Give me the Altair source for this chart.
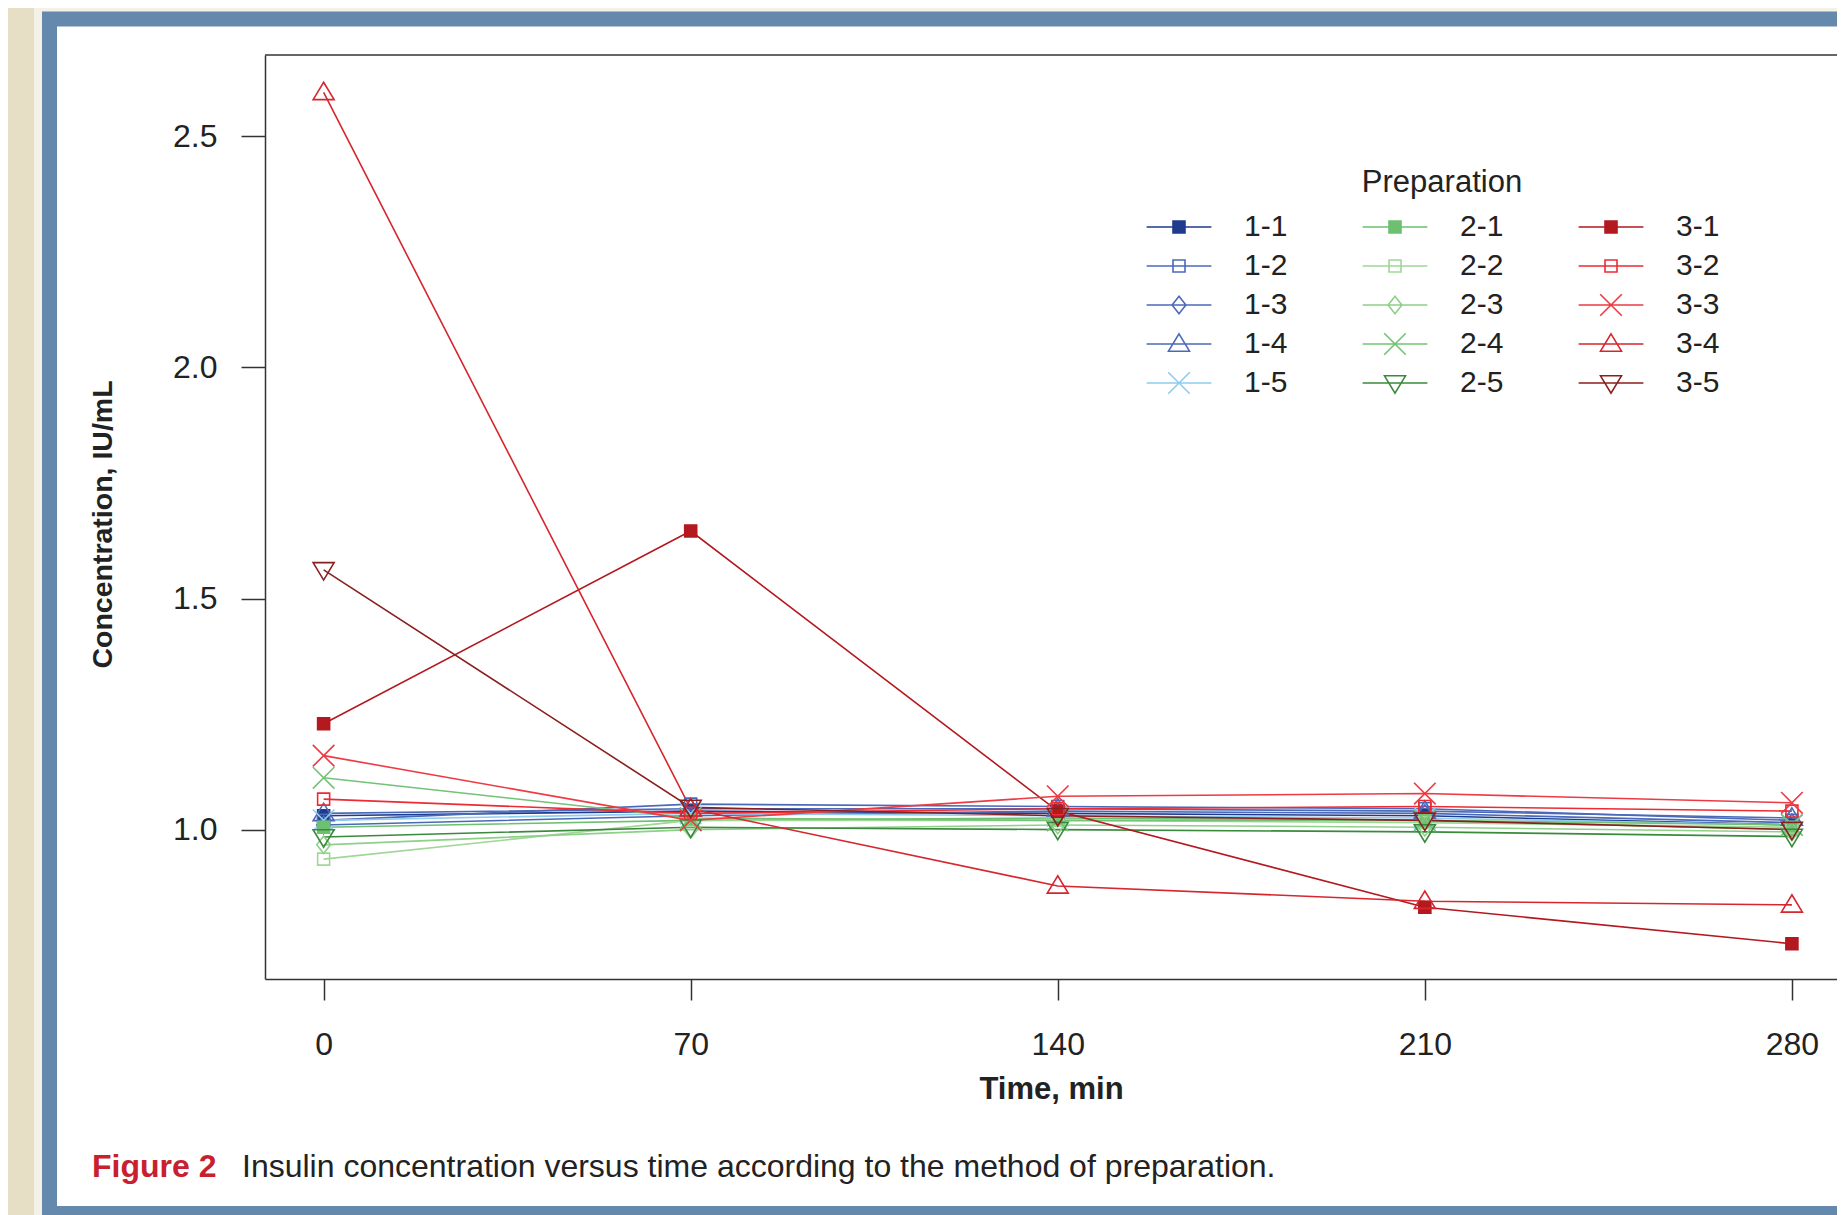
import altair as alt
import pandas as pd

# ---------------- data ----------------
times = [0, 70, 140, 210, 280]
series = ["1-1", "1-2", "1-3", "1-4", "1-5",
          "2-1", "2-2", "2-3", "2-4", "2-5",
          "3-1", "3-2", "3-3", "3-4", "3-5"]

v_1_1 = [1.030, 1.040, 1.035, 1.030, 1.010]
v_1_2 = [1.020, 1.055, 1.050, 1.045, 1.020]
v_1_3 = [1.010, 1.030, 1.040, 1.035, 1.015]
v_1_4 = [1.035, 1.045, 1.045, 1.040, 1.025]
v_1_5 = [1.020, 1.035, 1.030, 1.025, 1.010]
v_2_1 = [1.005, 1.020, 1.025, 1.020, 1.000]
v_2_2 = [0.936, 1.020, 1.020, 1.015, 1.005]
v_2_3 = [0.967, 1.000, 1.010, 1.005, 0.995]
v_2_4 = [1.112, 1.025, 1.020, 1.020, 1.010]
v_2_5 = [0.984, 1.005, 1.000, 0.995, 0.985]
v_3_1 = [1.229, 1.646, 1.040, 0.832, 0.753]
v_3_2 = [1.066, 1.035, 1.045, 1.050, 1.040]
v_3_3 = [1.160, 1.020, 1.072, 1.078, 1.058]
v_3_4 = [2.595, 1.045, 0.878, 0.845, 0.837]
v_3_5 = [1.562, 1.048, 1.030, 1.020, 1.000]
values = [v_1_1, v_1_2, v_1_3, v_1_4, v_1_5,
          v_2_1, v_2_2, v_2_3, v_2_4, v_2_5,
          v_3_1, v_3_2, v_3_3, v_3_4, v_3_5]

colors = ["#1f3b8c", "#4b69b9", "#4b69b9", "#4b69b9", "#8fcdf0",
          "#6cc070", "#9fd796", "#8ed08a", "#74c277", "#3a8a3d",
          "#b3191f", "#ee2a33", "#ee3a43", "#d6262e", "#8a1f1f"]

SQ = "M-1,-1L1,-1L1,1L-1,1Z"
DI = "M0,-1.45L1.15,0L0,1.45L-1.15,0Z"
TU = "M0,-1.7L1.75,1.2L-1.75,1.2Z"
TD = "M-1.75,-1.2L1.75,-1.2L0,1.7Z"
XX = "M-1.8,-1.8L1.8,1.8M-1.8,1.8L1.8,-1.8"
LN = "M-5.4,0L5.4,0"
shapes = [SQ, SQ, DI, TU, XX,
          SQ, SQ, DI, XX, TD,
          SQ, SQ, XX, TU, TD]
filled = [True, False, False, False, False,
          True, False, False, False, False,
          True, False, False, False, False]

y_ticks = [1.0, 1.5, 2.0, 2.5]
x_title = "Time, min"
y_title = "Concentration, IU/mL"
legend_title = "Preparation"
cap_fig = "Figure 2"
cap_text = "Insulin concentration versus time according to the method of preparation."

# ---------------- tables ----------------
rows = []
for s, vals in zip(series, values):
    for t, v in zip(times, vals):
        rows.append({"prep": s, "time": t, "conc": v})
df = pd.DataFrame(rows)

fills = [c if f else "transparent" for c, f in zip(colors, filled)]
leg_shapes = [LN + sh for sh in shapes]

FONT = "Liberation Sans, Arial, sans-serif"
W, H = 1572, 924
xs = alt.Scale(domain=[-11.18, 288.6], nice=False, zero=False)
ys = alt.Scale(domain=[0.6767, 2.676], nice=False, zero=False)

one = pd.DataFrame({"a": [0]})

halo = alt.Chart(one).mark_rect(fill="white", stroke="#f4f1e6", strokeWidth=31).encode(
    x=alt.value(-215.5), x2=alt.value(1700), y=alt.value(-36), y2=alt.value(1158.5))
frame = alt.Chart(one).mark_rect(fill="white", stroke="#6588ad", strokeWidth=15).encode(
    x=alt.value(-215.5), x2=alt.value(1700), y=alt.value(-36), y2=alt.value(1158.5))

topline = alt.Chart(one).mark_rule(color="#333333", strokeWidth=1.5).encode(
    x=alt.value(0), x2=alt.value(W), y=alt.value(0))

X = alt.X("time:Q", scale=xs,
          axis=alt.Axis(values=times, title=x_title, tickSize=21, labelPadding=29,
                        titlePadding=14, titleFontSize=31, grid=False, zindex=1))
Y = alt.Y("conc:Q", scale=ys,
          axis=alt.Axis(values=y_ticks, format=".1f", title=y_title, tickSize=24,
                        labelPadding=24, titlePadding=55, titleFontSize=28.5,
                        titleY=H / 2 + 7, grid=False, zindex=1))

lines = alt.Chart(df).mark_line(strokeWidth=1.6).encode(
    x=X, y=Y,
    stroke=alt.Stroke("prep:N", scale=alt.Scale(domain=series, range=colors), legend=None),
    detail="prep:N")

points = alt.Chart(df).mark_point(size=144, strokeWidth=1.6, opacity=1).encode(
    x=X, y=Y,
    stroke=alt.Stroke("prep:N", scale=alt.Scale(domain=series, range=colors), legend=None),
    fill=alt.Fill("prep:N", scale=alt.Scale(domain=series, range=fills), legend=None),
    shape=alt.Shape("prep:N", scale=alt.Scale(domain=series, range=shapes), legend=None))

leg = alt.Chart(df).transform_filter("false").mark_point(size=144, strokeWidth=1.6, opacity=1).encode(
    x=X, y=Y,
    stroke=alt.Stroke("prep:N", scale=alt.Scale(domain=series, range=colors), title=legend_title),
    fill=alt.Fill("prep:N", scale=alt.Scale(domain=series, range=fills), title=legend_title),
    shape=alt.Shape("prep:N", scale=alt.Scale(domain=series, range=leg_shapes), title=legend_title))

cap1 = alt.Chart(pd.DataFrame({"t": [cap_fig]})).mark_text(
    font=FONT, fontSize=32, fontWeight="bold", color="#c8202f", align="left", baseline="middle").encode(
    text="t:N", x=alt.value(-173), y=alt.value(1112))
cap2 = alt.Chart(pd.DataFrame({"t": [cap_text]})).mark_text(
    font=FONT, fontSize=32, color="#222222", align="left", baseline="middle").encode(
    text="t:N", x=alt.value(-23), y=alt.value(1112))

chart = alt.layer(halo, frame, topline, lines, points, leg, cap1, cap2).resolve_scale(
    stroke="independent", fill="independent", shape="independent"
).properties(
    width=W, height=H,
    autosize=alt.AutoSizeParams(type="none"),
    padding={"left": 257, "top": 47, "right": 0, "bottom": 236},
    background="#e6dfc6",
).configure_view(stroke=None).configure_axis(
    labelFont=FONT, titleFont=FONT, labelFontSize=32,
    titleFontWeight="bold", labelColor="#222222", titleColor="#222222",
    domainColor="#333333", domainWidth=1.5, tickColor="#333333", tickWidth=1.5,
).configure_legend(
    orient="none", legendX=899, legendY=113, columns=3, columnPadding=71, rowPadding=9,
    symbolSize=144, symbolStrokeWidth=1.6, labelOffset=50,
    labelFont=FONT, titleFont=FONT, labelFontSize=30, titleFontSize=31,
    titleFontWeight="normal", labelColor="#222222", titleColor="#222222",
    titleAnchor="middle", titlePadding=13,
)

chart.save("out.html", embed_options={"renderer": "svg", "actions": False})
